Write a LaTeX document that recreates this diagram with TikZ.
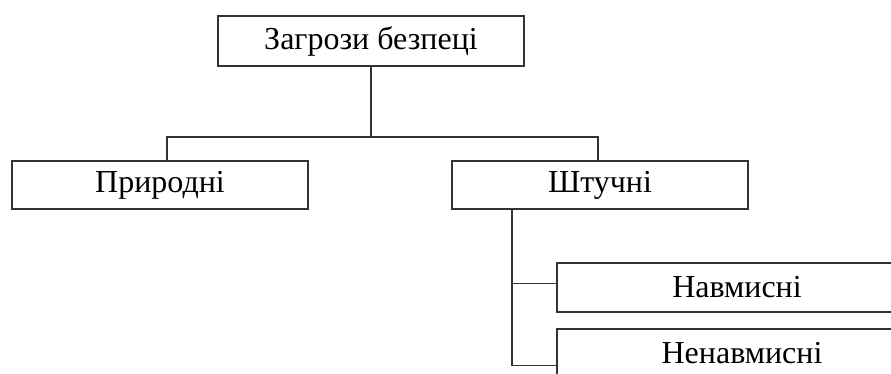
\documentclass[tikz,border=0pt]{standalone}
\usepackage{fontspec}
\setmainfont{Liberation Serif}
\usetikzlibrary{positioning}
\tikzset{box/.style={draw=black!80,line width=1.6pt,fill=white,inner sep=0pt,font=\fontsize{32}{38}\selectfont},
         wire/.style={draw=black!80,line width=1.5pt}}

\begin{document}
\begin{tikzpicture}[x=1pt,y=1pt]
\useasboundingbox (0,0) rectangle (891,-374);
% \draw[help lines] (0,0) grid (891,-374);
\node (root) [box,minimum width=306,minimum height=50] at (371,-41) {Загрози безпеці};
\node (nat) [box,minimum width=296,minimum height=48] at (160,-185) {Природні};
\node (art) [box,minimum width=296,minimum height=48] at (600,-185) {Штучні};
\node (delib) [box,minimum width=360,minimum height=49] at (737,-287.5) {Навмисні};
\node (undelib) [box,minimum width=370,minimum height=49] at (742,-353.5) {Ненавмисні};
\coordinate (bus) at (371,-137);
%
\draw[wire] (root) -- (bus);
\draw[wire] ([xshift=7]nat.north) |- (bus) -| ([xshift=-2]art.north);
\draw[wire] ([xshift=-88]art.south) |- ([yshift=4]delib.west);
\draw[wire] ([xshift=-88]art.south) |- ([yshift=-12]undelib.west);
\end{tikzpicture}
\end{document}
